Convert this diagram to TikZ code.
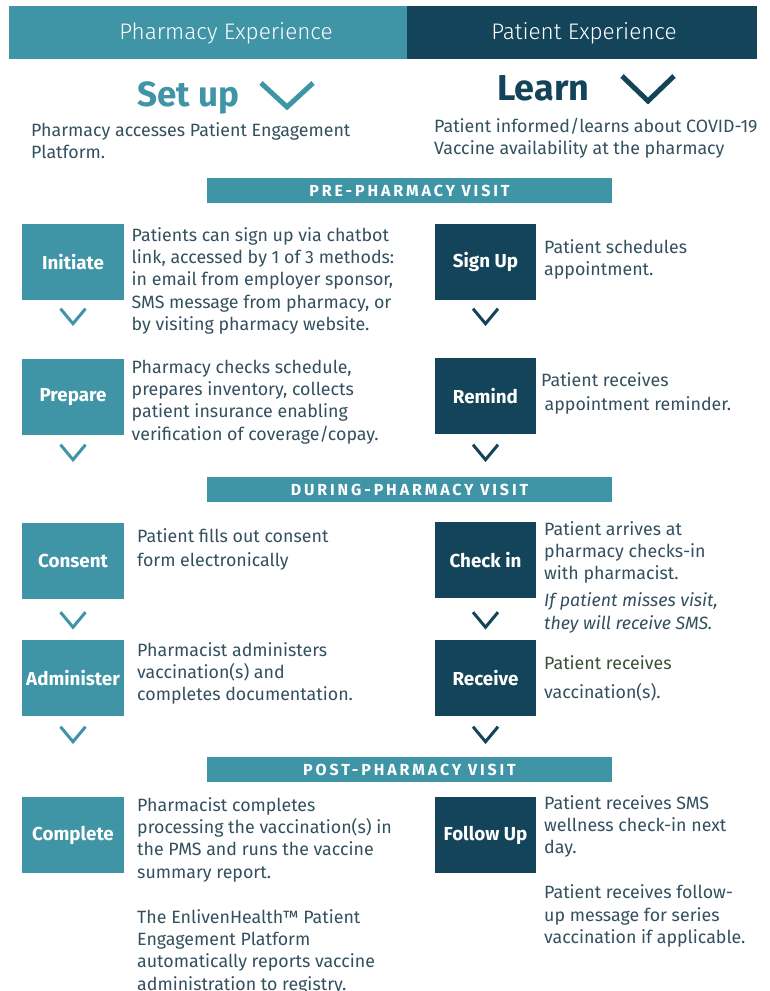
\documentclass[tikz,border=0pt]{standalone}
\usepackage{fontspec}
\setmainfont{Fira Sans}
\newfontfamily\lightfont{Fira Sans Light}
\usetikzlibrary{calc}
\definecolor{tealc}{HTML}{3F94A6}
\definecolor{darkc}{HTML}{144459}
\definecolor{bodyc}{HTML}{33505E}
\definecolor{olivec}{HTML}{3B4F36}
\newcommand\mylines[1]{\vtop{\halign{##\hfil\cr#1\crcr}}}
\newcommand\chevL[2]{\draw[chevs,tealc] ([shift={(-12.5,#2)}]#1.south) -- ++(12.5,15) -- ++(12.5,-15);}
\newcommand\chevR[2]{\draw[chevs,darkc] ([shift={(-12.5,#2)}]#1.south) -- ++(12.5,15) -- ++(12.5,-15);}
\begin{document}
\begin{tikzpicture}[x=1pt,y=-1pt,
  hdrbox/.style={anchor=north west, inner sep=0, minimum height=53},
  hdrtxt/.style={anchor=base, inner sep=0, text=white, font=\fontsize{22.5}{26}\lightfont},
  bigtxt/.style={anchor=base west, inner sep=0, font=\fontsize{35}{40}\selectfont\bfseries},
  bigchev/.style={line width=5pt},
  intro/.style={anchor=base west, inner sep=0, text=bodyc, font=\fontsize{17.8}{22.5}\selectfont},
  secbar/.style={fill=tealc, minimum width=405, minimum height=25, inner sep=0, text=white,
    font=\fontsize{16}{18}\selectfont\bfseries\addfontfeatures{LetterSpace=18}},
  lbox/.style={fill=tealc, minimum width=102, minimum height=76, inner sep=0, text=white,
    font=\fontsize{18.8}{21}\selectfont\bfseries},
  rbox/.style={lbox, fill=darkc, minimum width=101},
  desc/.style={anchor=base west, inner sep=0, text=bodyc, font=\fontsize{17.8}{22.4}\selectfont},
  chevs/.style={line width=3pt}
]
\useasboundingbox (0,0) rectangle (769,991);
\fill[white] (0,0) rectangle (769,991);

% header
\node[hdrbox, fill=tealc, minimum width=398] (hl) at (9,6) {};
\node[hdrbox, fill=darkc, minimum width=350] (hr) at (407,6) {};
\node[hdrtxt] (hlt) at (226,39) {Pharmacy Experience};
\node[hdrtxt] (hrt) at (584,39) {Patient Experience};

% Set up / Learn
\node[bigtxt, text=tealc] (setup) at (137,106) {Set up};
\coordinate (cs) at (261,83);
\draw[bigchev, tealc] (cs) -- ++(26,24) -- ++(26,-24);
\node[bigtxt, text=darkc, font=\fontsize{36}{40}\selectfont\bfseries] (learn) at (497,100) {Learn};
\coordinate (cl) at (622,76);
\draw[bigchev, darkc] (cl) -- ++(26,25) -- ++(26,-25);
\node[intro] (setupt) at (31,136) {\mylines{Pharmacy accesses Patient Engagement\cr Platform.}};
\node[intro] (learnt) at (434,132) {\mylines{Patient informed/learns about COVID-19\cr Vaccine availability at the pharmacy}};

% section bars
\node[secbar] (pre) at (409.5,190.5) {PRE-PHARMACY VISIT};
\node[secbar] (during) at (409.5,489.5) {DURING-PHARMACY VISIT};
\node[secbar] (post) at (409.5,769.5) {POST-PHARMACY VISIT};

% left column
\node[lbox] (initiate) at (73,262) {Initiate};
\node[lbox] (prepare) at (73,397) {Prepare};
\node[lbox] (consent) at (73,561) {Consent};
\node[lbox] (administer) at (73,678) {Administer};
\node[lbox] (complete) at (73,835) {Complete};
% right column
\node[rbox] (signup) at (485.5,262) {Sign Up};
\node[rbox] (remind) at (485.5,396) {Remind};
\node[rbox] (checkin) at (485.5,560) {Check in};
\node[rbox] (receive) at (485.5,678) {Receive};
\node[rbox] (followup) at (485.5,835) {Follow Up};

% chevrons
\chevL{initiate}{8.5}
\chevL{prepare}{9.5}
\chevL{consent}{13}
\chevL{administer}{10.5}
\chevR{signup}{8.5}
\chevR{remind}{10.5}
\chevR{checkin}{14}
\chevR{receive}{10.5}

% descriptions
\node[desc] (initiatet) at (131.5,241) {\mylines{Patients can sign up via chatbot\cr link, accessed by 1 of 3 methods:\cr in email from employer sponsor,\cr SMS message from pharmacy, or\cr by visiting pharmacy website.}};
\node[desc] (preparet) at (131.5,373) {\mylines{Pharmacy checks schedule,\cr prepares inventory, collects\cr patient insurance enabling\cr verification of coverage/copay.}};
\node[desc] (consentt) at (137,542) {\mylines{Patient fills out consent\cr\noalign{\vskip 1.6pt} form electronically}};
\node[desc] (administert) at (137,656) {\mylines{Pharmacist administers\cr vaccination(s) and\cr completes documentation.}};
\node[desc] (completet) at (137,811) {\mylines{Pharmacist completes\cr processing the vaccination(s) in\cr the PMS and runs the vaccine\cr summary report.\cr\cr The EnlivenHealth™ Patient\cr Engagement Platform\cr automatically reports vaccine\cr administration to registry.}};

\node[desc] (signupt) at (544,253) {\mylines{Patient schedules\cr appointment.}};
\node[desc] (remindt) at (541,386) {\mylines{Patient receives\cr\noalign{\vskip 1.6pt} \hspace{3.5pt}appointment reminder.}};
\node[desc] (checkint) at (544,535) {\mylines{Patient arrives at\cr pharmacy checks-in\cr with pharmacist.\cr\noalign{\vskip 4.5pt} \itshape If patient misses visit,\cr \itshape they will receive SMS.}};
\node[desc] (receivet) at (544,669) {\mylines{{\color{olivec}Patient receives}\cr\noalign{\vskip 6.6pt} vaccination(s).}};
\node[desc] (followupt) at (544,809) {\mylines{Patient receives SMS\cr wellness check-in next\cr day.\cr\cr Patient receives follow-\cr up message for series\cr vaccination if applicable.}};
\end{tikzpicture}
\end{document}
